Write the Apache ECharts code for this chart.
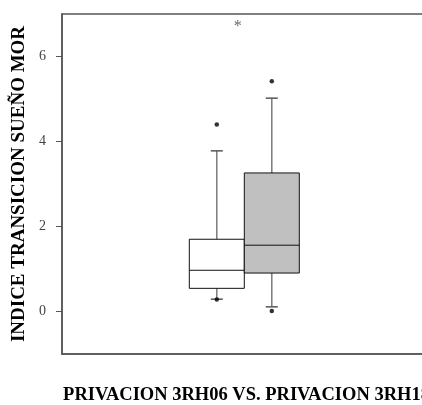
<!DOCTYPE html>
<html><head><meta charset="utf-8">
<script src="https://cdn.jsdelivr.net/npm/echarts@6/dist/echarts.min.js"></script>
<style>html,body{margin:0;padding:0;background:#fff}#c{width:422px;height:405px}</style>
</head><body><div id="c"></div>
<script>
// ---- data ----
const groupNames = ['PRIVACION 3RH06', 'PRIVACION 3RH18'];
const groupPos = [1, 2];
const whiskerLow = [0.29, 0.11];
const q1 = [0.545, 0.905];
const median = [0.97, 1.56];
const q3 = [1.70, 3.26];
const whiskerHigh = [3.78, 5.02];
const outliers = [[4.40, 0.28], [5.42, 0.01]];
const yTicks = [0, 2, 4, 6];
const sigMarkPos = [1.38, 6.7];
const sigMarkText = '*';
const xTitle = 'PRIVACION 3RH06 VS. PRIVACION 3RH18';
const yTitle = 'INDICE TRANSICION SUEÑO MOR';

// ---- styles ----
const boxFills = ['#ffffff', '#c0c0c0'];
const frameColor = '#555';

const boxData = groupPos.map((p, i) => [p, whiskerLow[i], q1[i], median[i], q3[i], whiskerHigh[i]]);
const outlierData = [];
outliers.forEach((arr, i) => arr.forEach(v => outlierData.push([groupPos[i], v])));

function renderBox(params, api) {
  const x = api.value(0);
  const lo = api.coord([x, api.value(1)]);
  const b1 = api.coord([x, api.value(2)]);
  const md = api.coord([x, api.value(3)]);
  const b3 = api.coord([x, api.value(4)]);
  const hi = api.coord([x, api.value(5)]);
  const w = api.size([1, 0])[0];
  const half = w / 2, cap = 6;
  const cx = lo[0];
  const ws = { stroke: '#7a7a7a', lineWidth: 1.5 };
  const cs = { stroke: '#555', lineWidth: 1.5 };
  return {
    type: 'group',
    children: [
      { type: 'line', shape: { x1: cx, y1: b3[1], x2: cx, y2: hi[1] }, style: ws },
      { type: 'line', shape: { x1: cx - cap, y1: hi[1], x2: cx + cap, y2: hi[1] }, style: cs },
      { type: 'line', shape: { x1: cx, y1: b1[1], x2: cx, y2: lo[1] }, style: ws },
      { type: 'line', shape: { x1: cx - cap, y1: lo[1], x2: cx + cap, y2: lo[1] }, style: cs },
      { type: 'rect', shape: { x: cx - half, y: b3[1], width: w, height: b1[1] - b3[1] },
        style: { fill: boxFills[params.dataIndex], stroke: '#111', lineWidth: 1 } },
      { type: 'line', shape: { x1: cx - half, y1: md[1], x2: cx + half, y2: md[1] },
        style: { stroke: '#111', lineWidth: 1 } }
    ]
  };
}

const chart = echarts.init(document.getElementById('c'), null, { renderer: 'canvas' });
chart.setOption({
  animation: false,
  backgroundColor: '#fff',
  grid: [
    { left: 62, right: -9, top: 14, bottom: 51, show: true, borderColor: frameColor, borderWidth: 1.5,
      containLabel: false, outerBoundsMode: 'none' },
    { left: 189.3, width: 110, top: 14, bottom: 51, containLabel: false, outerBoundsMode: 'none' }
  ],
  xAxis: [
    { gridIndex: 0, type: 'value', min: 0, max: 1,
      axisLine: { show: true, onZero: false, lineStyle: { color: frameColor, width: 1.5 } },
      axisTick: { show: false }, axisLabel: { show: false }, splitLine: { show: false },
      name: xTitle, nameLocation: 'middle', nameGap: 32,
      nameTextStyle: { fontFamily: 'Liberation Serif', fontWeight: 'bold', fontSize: 18.5, color: '#000' } },
    { gridIndex: 1, type: 'value', min: 0.5, max: 2.5, show: false }
  ],
  yAxis: [
    { gridIndex: 0, type: 'value', min: -1, max: 7,
      axisLine: { show: true, onZero: false, lineStyle: { color: frameColor, width: 1.5 } },
      axisTick: { show: true, length: 6, customValues: yTicks, lineStyle: { color: frameColor, width: 1 } },
      axisLabel: { customValues: yTicks, margin: 16, fontFamily: 'Liberation Serif', fontSize: 14, color: '#444' },
      splitLine: { show: false },
      name: yTitle, nameLocation: 'middle', nameGap: 30,
      nameTextStyle: { fontFamily: 'Liberation Serif', fontWeight: 'bold', fontSize: 19, color: '#000' } },
    { gridIndex: 1, type: 'value', min: -1, max: 7, show: false }
  ],
  series: [
    { type: 'custom', xAxisIndex: 1, yAxisIndex: 1, renderItem: renderBox, data: boxData, z: 2 },
    { type: 'scatter', xAxisIndex: 1, yAxisIndex: 1, data: outlierData, symbol: 'circle', symbolSize: 4.5,
      itemStyle: { color: '#000' }, z: 3 },
    { type: 'scatter', xAxisIndex: 1, yAxisIndex: 1, data: [sigMarkPos], symbolSize: 1,
      itemStyle: { color: 'rgba(0,0,0,0)' },
      label: { show: true, position: 'inside', formatter: sigMarkText, fontFamily: 'Liberation Serif',
        fontSize: 16, color: '#444' }, z: 3 }
  ]
});
</script>
</body></html>
